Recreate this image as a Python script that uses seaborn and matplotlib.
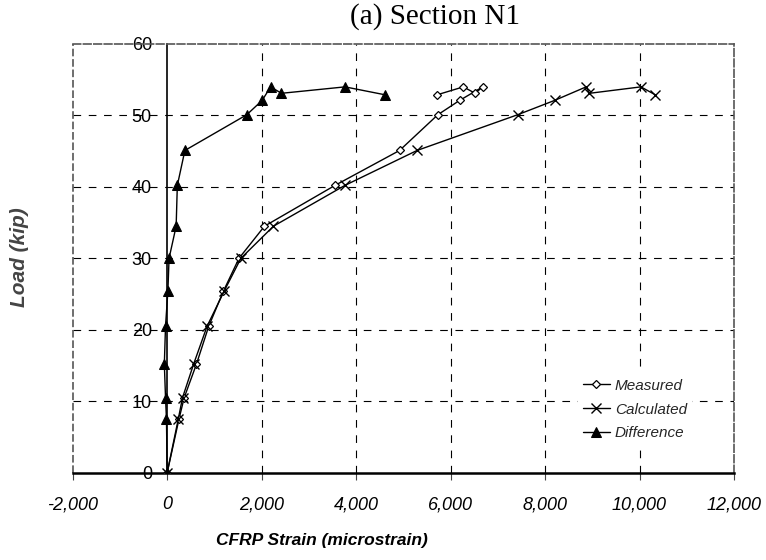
import matplotlib
matplotlib.use("Agg")
import matplotlib.pyplot as plt
import seaborn as sns
import pandas as pd

# ---- data ----
load = [0, 7.5, 10.5, 15.2, 20.5, 25.4, 30.0, 34.5, 40.2, 45.1, 50.1, 52.1, 54.0, 53.1, 54.0, 52.9]
measured = [0, 250, 360, 620, 880, 1190, 1520, 2060, 3550, 4920, 5730, 6190, 6680, 6520, 6270, 5720]
calculated = [0, 235, 325, 560, 845, 1205, 1560, 2250, 3760, 5290, 7420, 8200, 8870, 8940, 10030, 10330]
difference = [0, -15, -35, -60, -35, 15, 40, 190, 215, 375, 1685, 2010, 2190, 2420, 3765, 4605]

series_names = ["Measured", "Calculated", "Difference"]
x_ticks = [-2000, 0, 2000, 4000, 6000, 8000, 10000, 12000]
y_ticks = [0, 10, 20, 30, 40, 50, 60]

sns.set_theme(style="white")
plt.rcParams["font.family"] = ["Liberation Sans", "DejaVu Sans"]
plt.rcParams["lines.scale_dashes"] = False

rows = []
for name, xs in zip(series_names, [measured, calculated, difference]):
    for i, (xv, yv) in enumerate(zip(xs, load)):
        rows.append({"Series": name, "Strain": xv, "Load": yv, "order": i})
df = pd.DataFrame(rows)

fig = plt.figure(figsize=(7.66, 5.6), dpi=100)
ax = fig.add_axes([72.7 / 766, 1 - 472.7 / 560, (734 - 72.7) / 766, (472.7 - 44) / 560])

styles = {
    "Measured": dict(marker="D", markersize=4.5, markerfacecolor="white", markeredgecolor="black", markeredgewidth=0.9),
    "Calculated": dict(marker="x", markersize=7, markeredgecolor="black", markeredgewidth=1.0),
    "Difference": dict(marker="^", markersize=7, markerfacecolor="black", markeredgecolor="black"),
}
for name in series_names:
    sub = df[df["Series"] == name].sort_values("order")
    sns.lineplot(data=sub, x="Strain", y="Load", sort=False, estimator=None, ax=ax,
                 color="black", linewidth=1.0, label=name, zorder=5, **styles[name])

ax.set_xlim(-2000, 12000)
ax.set_ylim(0, 60)
ax.set_xticks(x_ticks)
ax.set_yticks(y_ticks)
ax.set_xticklabels([f"{v:,}" for v in x_ticks], fontstyle="italic")
ax.set_yticklabels([str(v) for v in y_ticks], fontstyle="italic")

# grid
for xv in x_ticks[1:-1]:
    if xv != 0:
        ax.axvline(xv, color="black", lw=0.8, ls=(0, (5.5, 5.5)), zorder=1)
for yv in y_ticks[1:-1]:
    ax.axhline(yv, color="black", lw=0.8, ls=(0, (5.5, 5.5)), zorder=1)

# frame
for side in ["top", "right"]:
    ax.spines[side].set_color("#555555")
    ax.spines[side].set_linestyle((0, (5.5, 2)))
    ax.spines[side].set_linewidth(1.2)
ax.spines["left"].set_position(("data", 0))
ax.spines["left"].set_color("black")
ax.spines["left"].set_linewidth(1.2)
ax.spines["bottom"].set_color("black")
ax.spines["bottom"].set_linewidth(1.8)
ax.axvline(-2000, color="#555555", lw=1.2, ls=(0, (5.5, 2)), zorder=1, clip_on=False)

ax.tick_params(axis="x", length=5, width=0.8, color="#444444", direction="out", pad=12,
               bottom=True, labelsize=13, labelcolor="black")
ax.tick_params(axis="y", length=0, pad=11, left=True, labelsize=13, labelcolor="black")

ax.set_xlabel("")
ax.set_ylabel("")

fig.text(322 / 766, 1 - 541 / 560, "CFRP Strain (microstrain)", ha="center", va="center",
         fontsize=12.5, fontweight="bold", fontstyle="italic", color="black")
fig.text(20 / 766, 1 - 257 / 560, "Load (kip)", ha="center", va="center", rotation=90,
         fontsize=15, fontweight="bold", fontstyle="italic", color="#444444")
fig.text(435 / 766, 1 - 17 / 560, "(a) Section N1", ha="center", va="center",
         fontsize=21, family="Liberation Serif", color="black")

leg = ax.legend(loc="upper left", bbox_to_anchor=(578 / 766, 1 - 374 / 560),
                bbox_transform=fig.transFigure, frameon=True, fancybox=False,
                facecolor="white", edgecolor="white", framealpha=1,
                prop={"style": "italic", "size": 11}, handlelength=1.8,
                handletextpad=0.3, labelspacing=0.65, borderpad=0.3, borderaxespad=0)
leg.set_zorder(10)

fig.savefig("out.png", dpi=100)
